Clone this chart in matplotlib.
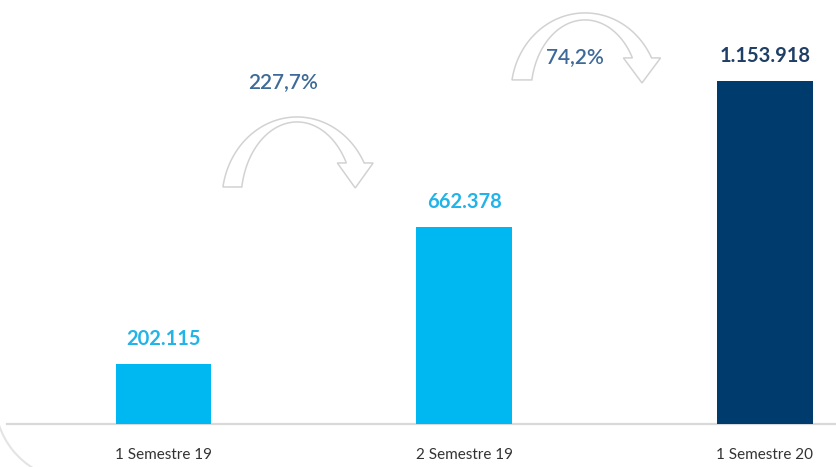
import numpy as np
import matplotlib.pyplot as plt
from matplotlib.patches import Polygon, Arc
from matplotlib.transforms import ScaledTranslation

# data
periods = ['1 Semestre 19', '2 Semestre 19', '1 Semestre 20']
values = [202115, 662378, 1153918]
value_labels = ['202.115', '662.378', '1.153.918']
growth_labels = ['227,7%', '74,2%']

bar_colors = ['#00B8F1', '#00B8F1', '#003B6E']
label_colors = ['#22B4E8', '#22B4E8', '#1F3F66']
pct_color = '#3D6A98'
arrow_edge = '#D2D2D2'


def curved_arrow(ax, anchor, ao, bo, ai, bi, base_dy, end_dy, head=9, head_len=25):
    """outlined curved arrow (sizes in px) around a centre given in data coords"""
    fig = ax.figure
    trans = fig.dpi_scale_trans + ScaledTranslation(anchor[0], anchor[1], ax.transData)

    def band(a, b):
        # base and band end both sit above the ellipse centre
        t0 = np.pi - np.arcsin(base_dy / b)
        t1 = np.arcsin(end_dy / b)
        t = np.linspace(t0, t1, 80)
        return np.column_stack([a * np.cos(t), b * np.sin(t)])

    outer = band(ao, bo)
    inner = band(ai, bi)[::-1]
    o_end, i_end = outer[-1], inner[0]
    d = (o_end - i_end) / np.hypot(*(o_end - i_end))
    fwd = np.array([d[1], -d[0]])
    tip = (o_end + i_end) / 2 + fwd * head_len
    pts = np.vstack([outer, o_end + d * head, tip, i_end - d * head, inner])
    poly = Polygon(pts / 100.0, closed=True, transform=trans, facecolor='white',
                   edgecolor=arrow_edge, lw=1.1, zorder=2, clip_on=False)
    ax.add_patch(poly)


fig = plt.figure(figsize=(8.36, 4.67), dpi=100)
ax = fig.add_axes([0, 0.092, 1, 0.908])

x = list(range(len(periods)))
ax.bar(x, values, width=0.316, color=bar_colors, zorder=3)

ax.set_xlim(-0.542, 2.236)
ax.set_ylim(0, 1.426e6)

for s in ax.spines.values():
    s.set_visible(False)
ax.axhline(0, xmin=0.008, xmax=1, color='#D9D9D9', lw=1.6, zorder=2, clip_on=False)

ax.set_yticks([])
ax.set_xticks(x)
ax.set_xticklabels(periods, fontsize=11, family=['Lato', 'DejaVu Sans'], color='#333333')
ax.tick_params(axis='x', length=0, pad=17)

# value labels above bars
for xi, v, lab, c in zip(x, values, value_labels, label_colors):
    ax.annotate(lab, (xi, v), xytext=(0, 18), textcoords='offset points',
                ha='center', va='center', fontsize=14.5, fontweight='bold',
                color=c, family=['Lato', 'DejaVu Sans'])

# curved growth arrows between bars
curved_arrow(ax, (0.445, 0.7535e6), ao=75, bo=83, ai=56, bi=78, base_dy=13, end_dy=37)
curved_arrow(ax, (1.402, 1.1135e6), ao=74, bo=80, ai=54, bi=73, base_dy=13, end_dy=35)

pct_pos = [(0.40, 1.15e6), (1.37, 1.235e6)]
for (px, py), lab in zip(pct_pos, growth_labels):
    ax.text(px, py, lab, ha='center', va='center', fontsize=15, color=pct_color,
            fontweight='semibold', family=['Lato', 'DejaVu Sans'], zorder=4)

# faint corner of the slide frame
fig.add_artist(Arc((0.75, 0.67), 1.6, 1.6, theta1=198, theta2=240,
                   transform=fig.dpi_scale_trans, color='#E4E4E4', lw=1.5))

fig.savefig('out.png', dpi=100)
